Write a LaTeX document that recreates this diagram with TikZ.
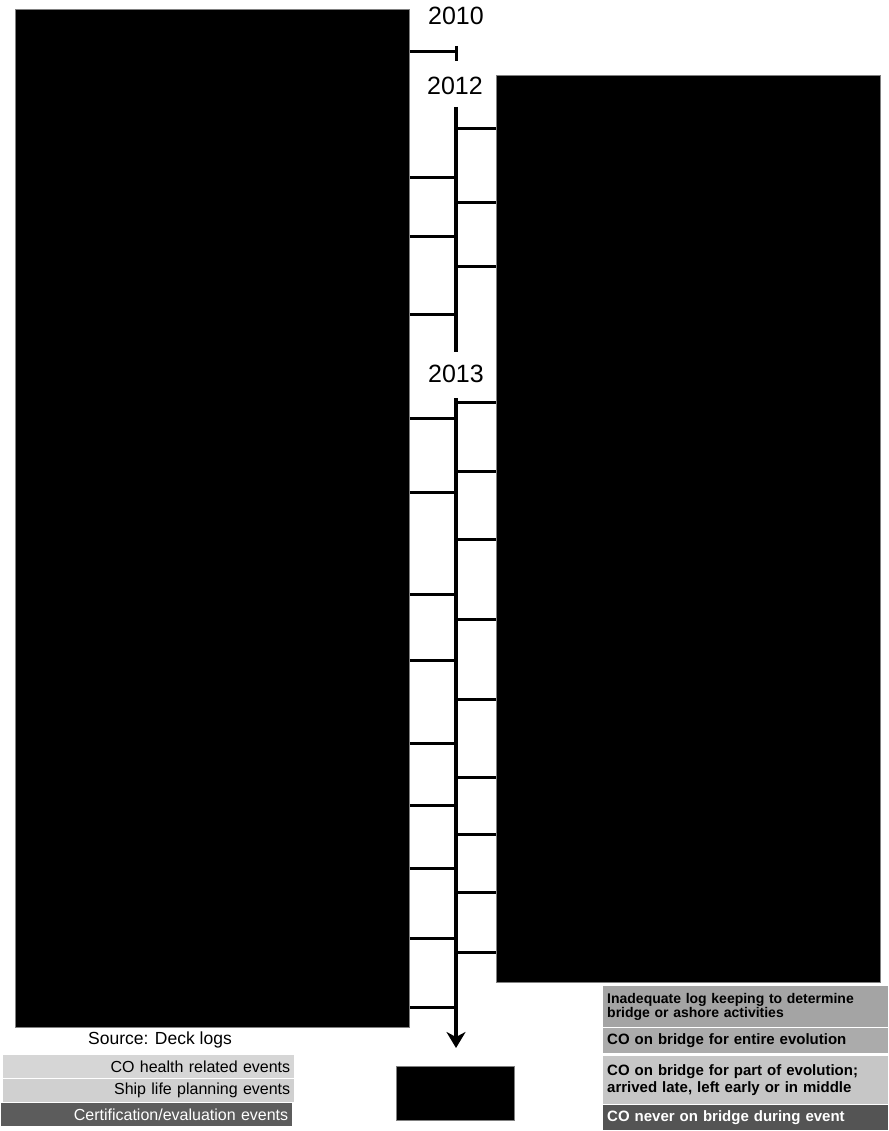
\documentclass[tikz,border=0pt]{standalone}
\usepackage{fontspec}
\setmainfont{Liberation Sans}
\usetikzlibrary{arrows.meta}
\definecolor{lgA}{HTML}{D6D6D6}
\definecolor{lgB}{HTML}{D0D0D0}
\definecolor{lgC}{HTML}{5C5C5C}
\definecolor{rgA}{HTML}{A4A4A4}
\definecolor{rgB}{HTML}{ABABAB}
\definecolor{rgC}{HTML}{C6C6C6}
\definecolor{rgD}{HTML}{545454}
\begin{document}
\begin{tikzpicture}[x=1pt,y=-1pt,
  blk/.style={fill=black,draw=black!50,line width=0.8pt,inner sep=0pt,anchor=north west},
  tickline/.style={line width=3pt},
  axisline/.style={line width=3.5pt},
  year/.style={font=\fontsize{25}{25}\selectfont,inner sep=0pt},
  lgleft/.style={anchor=north west,inner xsep=4pt,inner ysep=0pt,minimum height=23pt,text width=283pt,align=right,font=\fontsize{16}{17}\selectfont},
  lgright/.style={anchor=north west,inner xsep=4pt,inner ysep=0pt,text width=277pt,align=left,font=\bfseries\fontsize{15}{16}\selectfont},
]
\fill[white] (0,0) rectangle (888,1131);
\useasboundingbox (0,0) rectangle (888,1131);

% big black boxes
\node[blk,minimum width=394pt,minimum height=1018pt] (lbox) at (15,9) {};
\node[blk,minimum width=384pt,minimum height=907pt] (rbox) at (496,75) {};

% year labels
\node[year] (y2010) at (456,16) {2010};
\node[year] (y2012) at (455,86) {2012};
\node[year] (y2013) at (456,374) {2013};

% axis
\coordinate (a0) at (456,107);
\coordinate (a1) at (456,352);
\coordinate (a2) at (456,398);
\coordinate (a3) at (456,1048);
\draw[axisline] (a0) -- (a1);
\draw[axisline,-{Stealth[length=16pt,width=19pt,inset=5pt]}] (a2) -- (a3);

% 2010 tick
\coordinate (t10) at (456,52);
\draw[tickline] (lbox.east |- t10) -- (t10);
\draw[line width=3pt] (456,46) -- (456,61);

% left ticks
\foreach \y in {178,237,314,418,492,594,660,743,805,868,938,1007}
  \draw[tickline] (lbox.east |- 0,\y) -- (456,\y);
% right ticks
\foreach \y in {129,203,267,402,471,539,619,699,777,834,892,952}
  \draw[tickline] (456,\y) -- (rbox.west |- 0,\y);

% source
\node[font=\fontsize{17.5}{18}\selectfont,inner sep=0pt] (src) at (160,1040) {Source: Deck logs};

% left legend
\node[lgleft,fill=lgA] (l1) at (3,1055) {CO health related events};
\node[lgleft,fill=lgB] (l2) at (3,1079) {Ship life planning events};
\node[lgleft,fill=lgC,text=white] (l3) at (1,1103) {Certification/evaluation events};

% center key box
\node[blk,minimum width=118pt,minimum height=54pt] (key) at (396,1066) {};

% right legend
\node[lgright,fill=rgA,minimum height=41pt,font=\bfseries\fontsize{14}{14.5}\selectfont] (r1) at (603,986) {Inadequate log keeping to determine\\bridge or ashore activities};
\node[lgright,fill=rgB,minimum height=25pt] (r2) at (603,1028) {CO on bridge for entire evolution};
\node[lgright,fill=rgC,minimum height=48pt,font=\bfseries\fontsize{15}{17}\selectfont] (r3) at (603,1056) {CO on bridge for part of evolution;\\arrived late, left early or in middle};
\node[lgright,fill=rgD,minimum height=25pt,text=white] (r4) at (603,1105) {CO never on bridge during event};
\end{tikzpicture}
\end{document}
